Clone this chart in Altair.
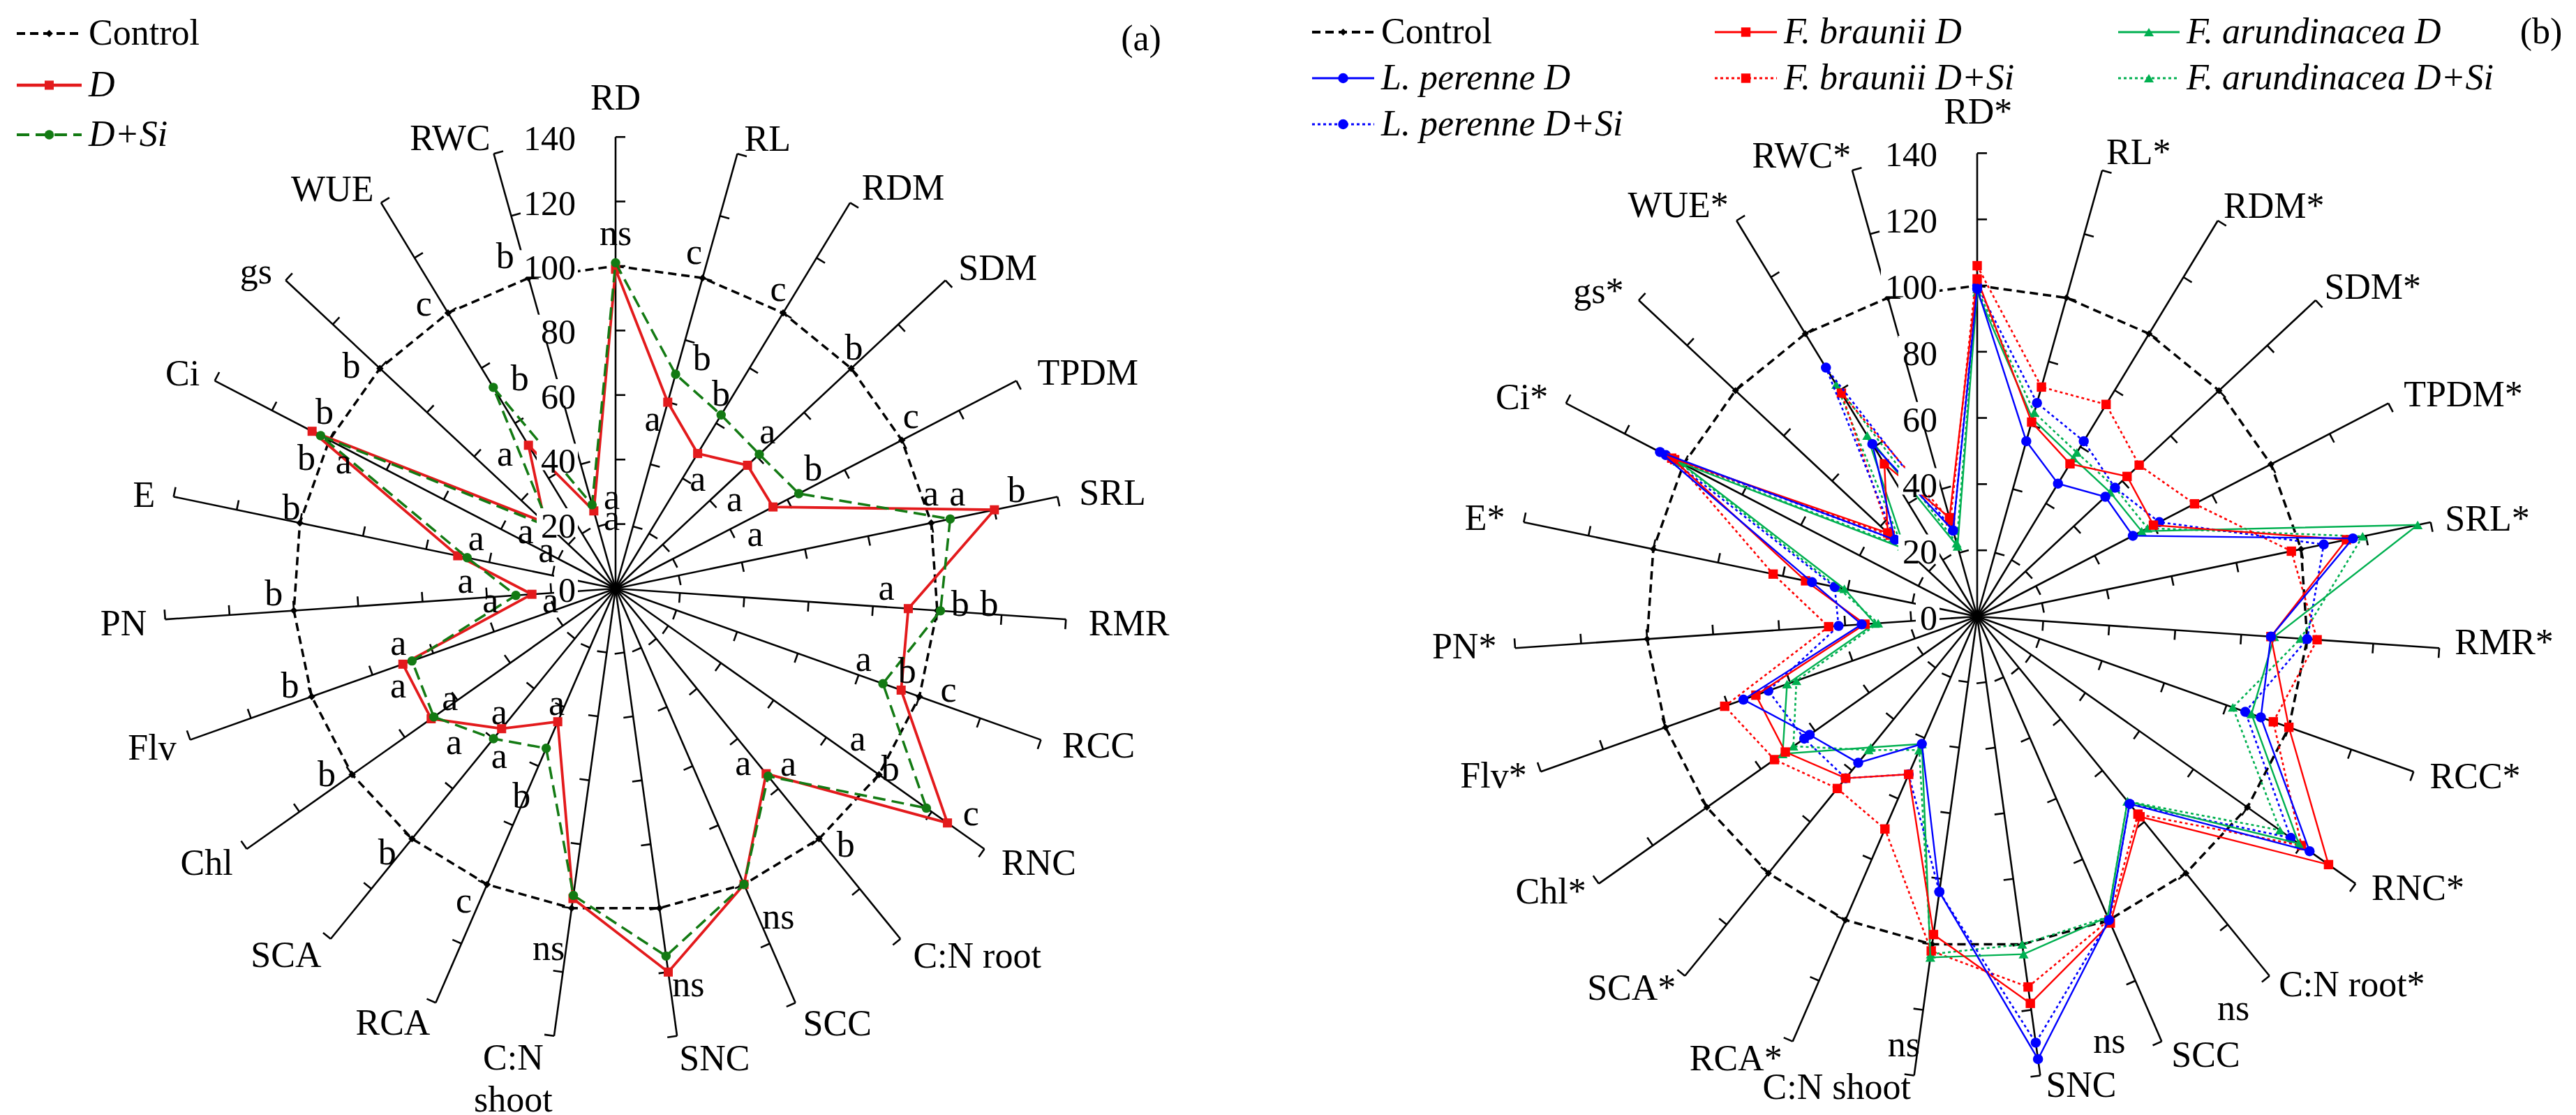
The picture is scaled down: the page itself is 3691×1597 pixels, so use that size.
import math
import pandas as pd
import altair as alt

FONT = "Liberation Serif"

# ---------------- data ----------------
AXES_A = ["RD", "RL", "RDM", "SDM", "TPDM", "SRL", "RMR", "RCC", "RNC", "C:N root",
          "SCC", "SNC", "C:N\nshoot", "RCA", "SCA", "Chl", "Flv", "PN", "E", "Ci",
          "gs", "WUE", "RWC"]
AXES_B = ["RD*", "RL*", "RDM*", "SDM*", "TPDM*", "SRL*", "RMR*", "RCC*", "RNC*", "C:N root*",
          "SCC", "SNC", "C:N shoot", "RCA*", "SCA*", "Chl*", "Flv*", "PN*", "E*", "Ci*",
          "gs*", "WUE*", "RWC*"]
TICK_VALUES = [0, 20, 40, 60, 80, 100, 120, 140]

CONTROL = [100, 100, 100, 100, 100, 100, 100, 100, 100, 100, 100, 100,
           100, 100, 100, 100, 100, 100, 100, 100, 100, 100, 100]

# panel (a)
A_D = [99, 60, 49, 56, 55, 120, 91, 94, 126, 74, 100, 120, 97, 45, 56, 70, 70, 26, 50, 106, 30, 52, 25]
A_DSI = [101, 69, 63, 61, 64, 106, 101, 88, 118, 75, 100, 115, 96, 54, 60, 69, 67, 31, 47, 103, 28, 73, 27]

# panel (b)
B_LP_D = [99, 55, 47, 53, 53, 116, 89, 91, 123, 73, 100, 135, 84, 42, 57, 62, 75, 35, 51, 108, 34, 61, 27]
B_LP_DSI = [100, 67, 62, 57, 62, 107, 100, 86, 116, 73, 100, 130, 84, 52, 63, 64, 67, 42, 44, 106, 34, 88, 27]
B_FB_D = [102, 61, 54, 62, 60, 114, 89, 100, 130, 78, 101, 118, 97, 52, 63, 71, 71, 34, 53, 104, 37, 54, 31]
B_FB_DSI = [106, 72, 75, 67, 74, 97, 103, 95, 120, 77, 100, 113, 102, 70, 67, 75, 81, 45, 63, 103, 36, 79, 30]
B_FA_D = [98, 62, 56, 55, 56, 136, 90, 88, 119, 72, 99, 103, 104, 42, 51, 72, 61, 31, 41, 101, 30, 64, 22]
B_FA_DSI = [99, 64, 58, 57, 58, 119, 98, 82, 112, 72, 99, 100, 103, 44, 52, 68, 58, 30, 43, 102, 31, 82, 23]

# significance letters of panel (a): (axis index, letter)
LETTERS_A = [
    (0, "ns"),
    (1, "c"), (1, "b"), (1, "a"),
    (2, "c"), (2, "b"), (2, "a"),
    (3, "b"), (3, "a"), (3, "a"),
    (4, "c"), (4, "b"), (4, "a"),
    (5, "a"), (5, "a"), (5, "b"),
    (6, "a"), (6, "b"), (6, "b"),
    (7, "a"), (7, "b"), (7, "c"),
    (8, "a"), (8, "b"), (8, "c"),
    (9, "a"), (9, "a"), (9, "b"),
    (10, "ns"), (11, "ns"), (12, "ns"),
    (13, "a"), (13, "b"), (13, "c"),
    (14, "a"), (14, "a"), (14, "b"),
    (15, "a"), (15, "a"), (15, "b"),
    (16, "a"), (16, "a"), (16, "b"),
    (17, "a"), (17, "a"), (17, "b"),
    (18, "a"), (18, "a"), (18, "b"),
    (19, "b"), (19, "b"), (19, "a"),
    (20, "a"), (20, "a"), (20, "b"),
    (21, "a"), (21, "b"), (21, "c"),
    (22, "a"), (22, "a"), (22, "b"),
]
LETTERS_B = [(9, "ns"), (10, "ns"), (12, "ns")]

# ---------------- layout (positions of texts, polar: radius in axis units, angle in degrees) ----------------
LETTER_POS_A = [
    (110, 0),
    (107, -2.5), (76, 5), (53.6, -3.3),
    (105.4, -2.7), (68.5, -2.8), (42.3, 5.8),
    (105, -2.2), (67.7, -2.8), (46, 6.4),
    (106, -2.8), (71.6, -3.7), (46.4, 6.4),
    (102, -4.9), (110, -3.7), (128, -2),
    (84, -3.9), (107, -1.3), (116, -1.5),
    (80, -3.6), (94, -3.7), (108, -2.5),
    (88.5, -3.3), (102, -1.9), (130.6, -2.8),
    (67.3, 3.1), (76.4, -5.4), (107, -2.7),
    (113.7, -2.9), (124.9, -2.6), (113.7, 2.7),
    (40.1, 3.6), (70.7, 0.9), (107.8, 2.4),
    (52.8, 4), (63.5, -4.5), (108.3, 1.7),
    (61.7, 1.5), (69.3, -8.5), (106.6, 2.4),
    (69.5, 5.4), (73.9, -4.6), (105.4, 2.9),
    (39, -1.7), (20.6, -7), (106, 3),
    (45.9, 7.9), (46.6, -9), (103.6, 2.2),
    (105.5, 3.8), (104, -4.6), (93, -2.5),
    (33, -10.8), (24.5, -14.3), (107, -3),
    (53.8, -8.3), (71.4, 6.7), (106.3, -2.7),
    (28.2, 13.2), (21.7, 12.6), (108.3, -2.8),
]
LETTER_POS_B = [(141.7, 6), (134.5, 6.2), (131.4, 1.9)]

LABEL_POS_A = [(152, 0), (147, 18.7), (152.8, 35.7), (154.5, 50.1), (161, 65.5), (156.9, 79.2),
               (159.6, 94), (157.6, 108.1), (156.5, 123), (160, 135.5), (151.5, 153), (149, 168.1),
               (149, 192.3), (151.6, 207.1), (153, 221.9), (152.8, 236.1), (152, 251), (153, 265.9),
               (149, 281.1), (149.8, 296.3), (148.4, 311.3), (151.6, 324.6), (148.6, 339.8)]
LABEL_POS_B = [(152.3, 0.1), (148.3, 19.2), (153, 35.9), (155.4, 50.3), (161.5, 65.5), (157, 79.2),
               (159.5, 92.9), (158.2, 107.9), (156.6, 121.7), (158.8, 134.5), (149.6, 152.5), (145.2, 167.5),
               (148.6, 196.6), (152.4, 208.6), (153.5, 222.9), (153.5, 237.1), (154, 251.7), (155.3, 266.6),
               (151.7, 281.2), (152.6, 295.6), (150.8, 310.6), (153.4, 323.9), (148.8, 339.1)]

N = len(AXES_A)
STEP = 360.0 / N
R_MAX = 140
H = 1581


def polar(r, deg):
    t = math.radians(deg)
    return r * math.sin(t), r * math.cos(t)


def build_panel(cfg):
    s, W, cx, cy = cfg["scale"], cfg["W"], cfg["cx"], cfg["cy"]
    xs = alt.Scale(domain=[-cx / s, (W - cx) / s], nice=False, zero=False)
    ys = alt.Scale(domain=[-(H - cy) / s, cy / s], nice=False, zero=False)

    def X(f="x"):
        return alt.X(f"{f}:Q", scale=xs, axis=None)

    def Y(f="y"):
        return alt.Y(f"{f}:Q", scale=ys, axis=None)

    layers = []
    # spokes
    sp = []
    for i in range(N):
        x2, y2 = polar(R_MAX, i * STEP)
        sp.append({"x": 0.0, "y": 0.0, "x2": x2, "y2": y2})
    layers.append(alt.Chart(pd.DataFrame(sp)).mark_rule(color="black", strokeWidth=2.6)
                  .encode(x=X(), y=Y(), x2="x2:Q", y2="y2:Q"))
    # ticks (clockwise side)
    L = 14.0 / s
    tk = []
    for i in range(N):
        th = math.radians(i * STEP)
        for v in TICK_VALUES[1:]:
            bx, by = polar(v, i * STEP)
            tk.append({"x": bx, "y": by, "x2": bx + L * math.cos(th), "y2": by - L * math.sin(th)})
    layers.append(alt.Chart(pd.DataFrame(tk)).mark_rule(color="black", strokeWidth=2.6)
                  .encode(x=X(), y=Y(), x2="x2:Q", y2="y2:Q"))

    # series
    for ser in cfg["series"]:
        vals = ser["values"]
        rows = []
        for i in range(N + 1):
            x, y = polar(vals[i % N], (i % N) * STEP)
            rows.append({"i": i, "x": x, "y": y})
        df = pd.DataFrame(rows)
        lk = dict(color=ser["color"], strokeWidth=ser["width"])
        if ser.get("dash"):
            lk["strokeDash"] = ser["dash"]
        layers.append(alt.Chart(df).mark_line(**lk).encode(x=X(), y=Y(), order="i:Q"))
        layers.append(alt.Chart(df.iloc[:N]).mark_point(shape=ser["shape"], filled=True, size=ser["size"],
                                                        color=ser["color"], opacity=1, strokeWidth=0)
                      .encode(x=X(), y=Y()))

    # tick labels with white background
    off = 57.0 / s
    bg, tl = [], []
    for v in TICK_VALUES:
        w = (len(str(v)) * 25 + 6) / s
        h = 19.0 / s
        bg.append({"x": -off - w, "x2": -off + 3.0 / s, "y": v - h + 0.8, "y2": v + h + 0.8})
        tl.append({"x": -off, "y": v, "t": str(v)})
    layers.append(alt.Chart(pd.DataFrame(bg)).mark_rect(color="white")
                  .encode(x=X(), x2="x2:Q", y=Y(), y2="y2:Q"))
    layers.append(alt.Chart(pd.DataFrame(tl)).mark_text(align="right", baseline="middle", font=FONT,
                                                       fontSize=50, color="black", dy=4)
                  .encode(x=X(), y=Y(), text="t:N"))

    # axis labels
    al = []
    for name, (r, th) in zip(cfg["axes"], cfg["label_pos"]):
        x, y = polar(r, th)
        al.append({"x": x, "y": y, "t": name})
    layers.append(alt.Chart(pd.DataFrame(al)).mark_text(align="center", baseline="middle", font=FONT,
                                                       fontSize=52, color="black", lineBreak="\n",
                                                       lineHeight=60)
                  .encode(x=X(), y=Y(), text="t:N"))

    # letters
    lt = []
    for (ax, letter), (r, dth) in zip(cfg["letters"], cfg["letter_pos"]):
        x, y = polar(r, ax * STEP + dth)
        lt.append({"x": x, "y": y, "t": letter})
    layers.append(alt.Chart(pd.DataFrame(lt)).mark_text(align="center", baseline="middle", font=FONT,
                                                       fontSize=52, color="black")
                  .encode(x=X(), y=Y(), text="t:N"))

    # legend (pixel layout)
    one = pd.DataFrame({"k": [0]})
    for item in cfg["legend"]:
        ser, x0, x1, yy = item["series"], item["x0"], item["x1"], item["y"]
        rk = dict(color=ser["color"], strokeWidth=ser["width"] + 0.6)
        if ser.get("dash"):
            rk["strokeDash"] = ser["dash"]
        layers.append(alt.Chart(one).mark_rule(**rk)
                      .encode(x=alt.value(x0), x2=alt.value(x1), y=alt.value(yy)))
        layers.append(alt.Chart(one).mark_point(shape=ser["shape"], filled=True, size=ser["size"],
                                                color=ser["color"], opacity=1, strokeWidth=0)
                      .encode(x=alt.value((x0 + x1) / 2), y=alt.value(yy)))
        layers.append(alt.Chart(one).mark_text(align="left", baseline="middle", font=FONT, fontSize=52,
                                               fontStyle="italic" if ser["italic"] else "normal",
                                               color="black")
                      .encode(x=alt.value(x1 + 10), y=alt.value(yy), text=alt.value(ser["label"])))
    layers.append(alt.Chart(one).mark_text(align="center", baseline="middle", font=FONT, fontSize=52,
                                           color="black")
                  .encode(x=alt.value(cfg["tag_xy"][0]), y=alt.value(cfg["tag_xy"][1]),
                          text=alt.value(cfg["tag"])))

    return alt.layer(*layers).properties(width=W, height=H)


RED_A, GREEN_A = "#E31A1C", "#137A13"
BLUE, RED, GREEN = "#0000FF", "#FF0000", "#00B050"

ctrl_a = dict(values=CONTROL, color="black", width=3.5, dash=[12, 7], shape="diamond", size=110,
              label="Control", italic=False)
d_a = dict(values=A_D, color=RED_A, width=3.8, shape="square", size=170, label="D", italic=True)
dsi_a = dict(values=A_DSI, color=GREEN_A, width=3.5, dash=[18, 9], shape="circle", size=180,
             label="D+Si", italic=True)

cfg_a = dict(scale=4.62, W=1800, cx=874, cy=835, axes=AXES_A, label_pos=LABEL_POS_A,
             letters=LETTERS_A, letter_pos=LETTER_POS_A,
             series=[ctrl_a, d_a, dsi_a],
             legend=[dict(series=ctrl_a, x0=16, x1=109, y=40),
                     dict(series=d_a, x0=16, x1=109, y=114),
                     dict(series=dsi_a, x0=16, x1=109, y=185)],
             tag="(a)", tag_xy=(1627, 48))

ctrl_b = dict(values=CONTROL, color="black", width=3.5, dash=[12, 7], shape="diamond", size=100,
              label="Control", italic=False)
lp_d = dict(values=B_LP_D, color=BLUE, width=2.4, shape="circle", size=210, label="L. perenne D", italic=True)
lp_dsi = dict(values=B_LP_DSI, color=BLUE, width=2.6, dash=[4, 4], shape="circle", size=210,
              label="L. perenne D+Si", italic=True)
fb_d = dict(values=B_FB_D, color=RED, width=2.4, shape="square", size=180, label="F. braunii D", italic=True)
fb_dsi = dict(values=B_FB_DSI, color=RED, width=2.6, dash=[4, 4], shape="square", size=180,
              label="F. braunii D+Si", italic=True)
fa_d = dict(values=B_FA_D, color=GREEN, width=2.4, shape="triangle-up", size=200,
            label="F. arundinacea D", italic=True)
fa_dsi = dict(values=B_FA_DSI, color=GREEN, width=2.6, dash=[4, 4], shape="triangle-up", size=200,
              label="F. arundinacea D+Si", italic=True)

cfg_b = dict(scale=4.74, W=1875, cx=1025, cy=875, axes=AXES_B, label_pos=LABEL_POS_B,
             letters=LETTERS_B, letter_pos=LETTER_POS_B,
             series=[ctrl_b, fa_dsi, fb_dsi, lp_dsi, fa_d, fb_d, lp_d],
             legend=[dict(series=ctrl_b, x0=72, x1=161, y=38),
                     dict(series=lp_d, x0=72, x1=161, y=104),
                     dict(series=lp_dsi, x0=72, x1=161, y=170),
                     dict(series=fb_d, x0=649, x1=738, y=38),
                     dict(series=fb_dsi, x0=649, x1=738, y=104),
                     dict(series=fa_d, x0=1227, x1=1315, y=38),
                     dict(series=fa_dsi, x0=1227, x1=1315, y=104)],
             tag="(b)", tag_xy=(1833, 38))

chart = alt.hconcat(build_panel(cfg_a), build_panel(cfg_b), spacing=0).properties(
    padding=0
).configure_view(stroke=None)

chart.save("out.html", embed_options={"renderer": "svg", "actions": False})
